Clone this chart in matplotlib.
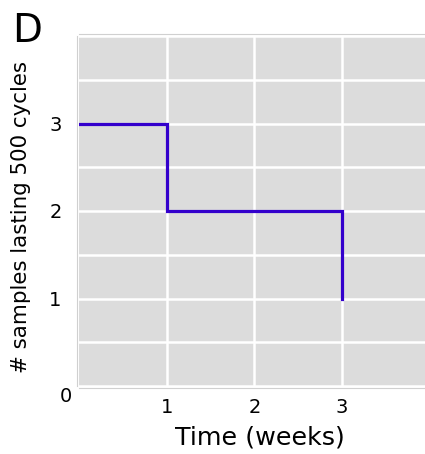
import numpy as np
import matplotlib.pyplot as plt
from matplotlib.ticker import MultipleLocator

# survival-style step data
weeks = [0, 1, 3]
n_samples = [3, 2, 1]
xticks = [1, 2, 3]
yticks = [1, 2, 3]

fig = plt.figure(figsize=(4.25, 4.54), dpi=100)
W, H = 425, 454
ax = fig.add_axes([79 / W, (454 - 386) / H, (425 - 79) / W, (386 - 36) / H])

ax.set_facecolor('#dcdcdc')
ax.set_xlim(0, (425 - 79) / 87.7)
ax.set_ylim(0, 4)

ax.set_xticks(xticks)
ax.set_yticks(yticks)
ax.yaxis.set_minor_locator(MultipleLocator(0.5))
ax.grid(True, which='both', axis='y', color='white', lw=1.8)
ax.grid(True, which='major', axis='x', color='white', lw=1.8)
ax.set_axisbelow(True)
ax.tick_params(which='both', length=0)
ax.tick_params(axis='x', labelsize=14, pad=7)
ax.tick_params(axis='y', labelsize=14, pad=11)

for s in ax.spines.values():
    s.set_color('#d0d0d0')
    s.set_linewidth(0.8)
    s.set_position(('outward', 1.5))

ax.step(weeks, n_samples, where='post', color='#3300cc', lw=2.3,
        solid_joinstyle='miter', zorder=3)

ax.set_xlabel('Time (weeks)', fontsize=18.3, va='center')
ax.set_ylabel('# samples lasting 500 cycles', fontsize=15.4, va='center')
ax.xaxis.set_label_coords((259.5 - 79) / 346, (386 - 437) / 350)
ax.yaxis.set_label_coords((21 - 79) / 346, (386 - 217) / 350)

fig.text(66 / W, 1 - 397 / H, '0', fontsize=14, ha='center', va='center')
fig.text(12 / W, 1 - 42 / H, 'D', fontsize=28, ha='left', va='baseline')

fig.savefig('out.png', dpi=100)
